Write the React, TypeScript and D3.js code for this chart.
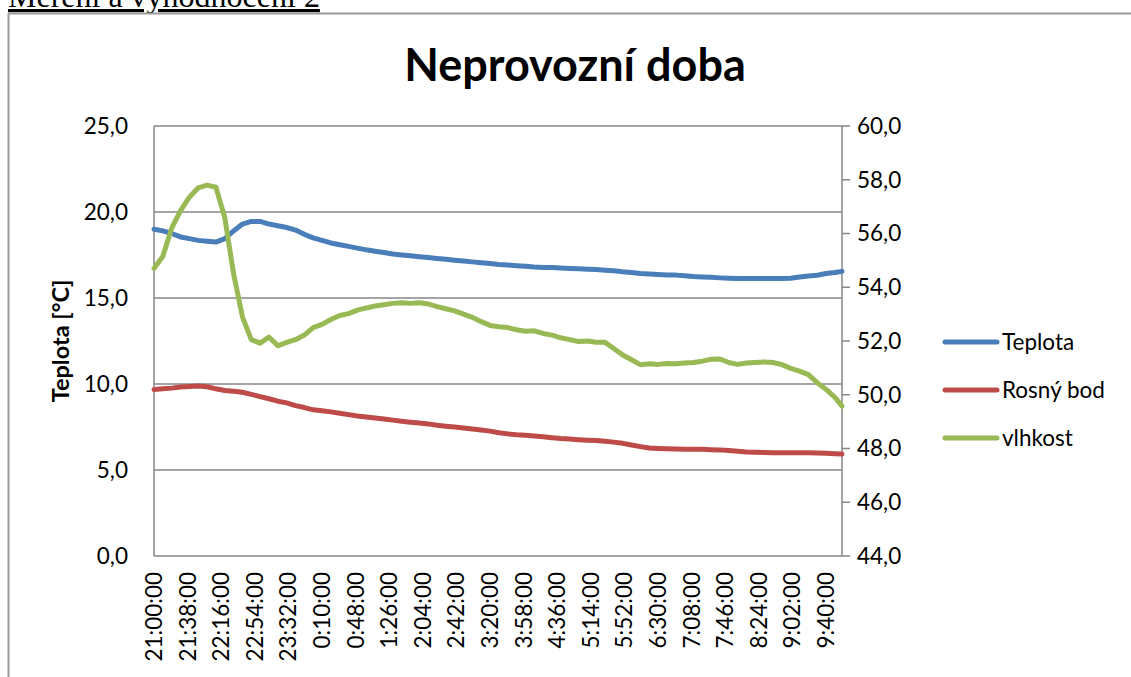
import React from 'react';
import * as d3 from 'd3';

// sampled every 10 minutes from 21:00 (last point 9:58)
const sampleMinutes = [...d3.range(0, 771, 10), 778];

const teplota = [
  19.0, 18.9, 18.75, 18.55, 18.45, 18.35, 18.3, 18.25, 18.45, 18.9,
  19.3, 19.45, 19.45, 19.3, 19.2, 19.1, 18.95, 18.7, 18.5, 18.35,
  18.2, 18.1, 18.0, 17.9, 17.8, 17.72, 17.65, 17.56, 17.5, 17.45,
  17.4, 17.35, 17.3, 17.25, 17.2, 17.15, 17.1, 17.05, 17.0, 16.95,
  16.92, 16.88, 16.85, 16.8, 16.78, 16.77, 16.74, 16.72, 16.7, 16.67,
  16.65, 16.62, 16.58, 16.52, 16.48, 16.43, 16.4, 16.37, 16.34, 16.33,
  16.3, 16.25, 16.22, 16.2, 16.17, 16.15, 16.14, 16.14, 16.14, 16.14,
  16.14, 16.14, 16.15, 16.22, 16.28, 16.32, 16.42, 16.48, 16.55
];

const rosnyBod = [
  9.68, 9.72, 9.76, 9.82, 9.86, 9.88, 9.84, 9.72, 9.62, 9.58,
  9.52, 9.4, 9.27, 9.14, 9.0, 8.9, 8.74, 8.63, 8.5, 8.45,
  8.38, 8.3, 8.22, 8.14, 8.08, 8.02, 7.96, 7.9, 7.84, 7.78,
  7.73, 7.68, 7.6, 7.55, 7.5, 7.44, 7.38, 7.32, 7.26, 7.17,
  7.1, 7.05, 7.02, 6.98, 6.93, 6.88, 6.83, 6.8, 6.76, 6.73,
  6.71, 6.67, 6.62, 6.55, 6.45, 6.36, 6.28, 6.25, 6.23, 6.22,
  6.21, 6.2, 6.2, 6.18, 6.17, 6.14, 6.09, 6.05, 6.03, 6.02,
  6.01, 6.01, 6.01, 6.0, 6.0, 5.99, 5.98, 5.95, 5.93
];

const vlhkost = [
  54.7, 55.15, 56.2, 56.85, 57.35, 57.7, 57.8, 57.72, 56.6, 54.5,
  52.9, 52.05, 51.92, 52.15, 51.82, 51.95, 52.05, 52.22, 52.5, 52.62,
  52.8, 52.95, 53.02, 53.15, 53.23, 53.3, 53.35, 53.4, 53.42, 53.4,
  53.42, 53.38, 53.28, 53.2, 53.12, 53.0, 52.88, 52.72, 52.58, 52.53,
  52.5, 52.42, 52.36, 52.38, 52.28, 52.22, 52.12, 52.05, 51.98, 52.0,
  51.95, 51.95, 51.72, 51.48, 51.3, 51.12, 51.15, 51.13, 51.16, 51.15,
  51.18, 51.2, 51.25, 51.32, 51.33, 51.2, 51.13, 51.18, 51.2, 51.22,
  51.2, 51.12, 50.98, 50.88, 50.75, 50.45, 50.2, 49.9, 49.58
];

const timeLabels = [
  '21:00:00', '21:38:00', '22:16:00', '22:54:00', '23:32:00', '0:10:00', '0:48:00',
  '1:26:00', '2:04:00', '2:42:00', '3:20:00', '3:58:00', '4:36:00', '5:14:00',
  '5:52:00', '6:30:00', '7:08:00', '7:46:00', '8:24:00', '9:02:00', '9:40:00'
];
const labelStep = 38; // minutes between category labels

const leftTicks = [0, 5, 10, 15, 20, 25];
const rightTicks = [44, 46, 48, 50, 52, 54, 56, 58, 60];

const seriesNames = ['Teplota', 'Rosný bod', 'vlhkost'];
const seriesColors = ['#4a7ebb', '#be4b48', '#98b954'];

const fmt = (v: number) => v.toFixed(1).replace('.', ',');

const App = () => {
  const width = 1131;
  const height = 677;
  const plot = { left: 154, right: 842, top: 126, bottom: 556 };
  const font = 'Lato, "Open Sans", sans-serif';
  const fs = 22.5;

  const x = d3.scaleLinear().domain([0, 778]).range([plot.left, plot.right]);
  const yL = d3.scaleLinear().domain([0, 25]).range([plot.bottom, plot.top]);
  const yR = d3.scaleLinear().domain([44, 60]).range([plot.bottom, plot.top]);

  const lineL = d3.line<number>()
    .x((d, i) => x(sampleMinutes[i]))
    .y(d => yL(d));
  const lineR = d3.line<number>()
    .x((d, i) => x(sampleMinutes[i]))
    .y(d => yR(d));

  const axisColor = '#868686';

  return (
    <svg width={width} height={height}
         style={{ position: 'absolute', left: 0, top: 0, background: '#fff' }}>
      {/* page header, cut off at top */}
      <text x={8} y={7} fontFamily='"Liberation Serif", "Times New Roman", serif'
            fontSize={32} textDecoration="underline" fill="#000">Měření a vyhodnocení 2</text>
      {/* document frame */}
      <line x1={8} x2={width} y1={13.5} y2={13.5} stroke="#9a9a9a" strokeWidth={2} />
      <line x1={8.5} x2={8.5} y1={13} y2={height} stroke="#9a9a9a" strokeWidth={2} />

      {/* title */}
      <text x={575} y={81} textAnchor="middle" fontFamily={font} fontWeight="bold"
            fontSize={45} fill="#000">Neprovozní doba</text>

      {/* gridlines */}
      {leftTicks.filter(t => t > 0).map(t => (
        <line key={'g' + t} x1={plot.left} x2={plot.right} y1={yL(t)} y2={yL(t)}
              stroke={axisColor} strokeWidth={1.5} />
      ))}

      {/* axes */}
      <line x1={plot.left} x2={plot.left} y1={plot.top} y2={plot.bottom} stroke={axisColor} strokeWidth={1.5} />
      <line x1={plot.right} x2={plot.right} y1={plot.top} y2={plot.bottom} stroke={axisColor} strokeWidth={1.5} />
      <line x1={plot.left} x2={plot.right} y1={plot.bottom} y2={plot.bottom} stroke={axisColor} strokeWidth={1.5} />

      {/* left tick labels */}
      {leftTicks.map(t => (
        <text key={'l' + t} x={128} y={yL(t)} dy="0.35em" textAnchor="end"
              fontFamily={font} fontSize={fs} fill="#000">{fmt(t)}</text>
      ))}
      <text transform="translate(69,341) rotate(-90)" textAnchor="middle" fontFamily={font}
            fontWeight="bold" fontSize={23.5} fill="#000">Teplota [°C]</text>

      {/* right ticks + labels */}
      {rightTicks.map(t => (
        <g key={'r' + t}>
          <line x1={plot.right} x2={plot.right + 8} y1={yR(t)} y2={yR(t)} stroke={axisColor} strokeWidth={1.5} />
          <text x={857} y={yR(t)} dy="0.35em" fontFamily={font} fontSize={fs} fill="#000">{fmt(t)}</text>
        </g>
      ))}

      {/* category labels */}
      {timeLabels.map((lab, i) => (
        <text key={lab} transform={`translate(${x(i * labelStep) + 8},572) rotate(-90)`}
              textAnchor="end" fontFamily={font} fontSize={fs} fill="#000">{lab}</text>
      ))}

      {/* series */}
      <path d={lineL(teplota) || ''} fill="none" stroke={seriesColors[0]} strokeWidth={5}
            strokeLinejoin="round" strokeLinecap="round" />
      <path d={lineL(rosnyBod) || ''} fill="none" stroke={seriesColors[1]} strokeWidth={5}
            strokeLinejoin="round" strokeLinecap="round" />
      <path d={lineR(vlhkost) || ''} fill="none" stroke={seriesColors[2]} strokeWidth={5}
            strokeLinejoin="round" strokeLinecap="round" />

      {/* legend */}
      {seriesNames.map((name, i) => (
        <g key={name} transform={`translate(945,${342 + i * 48})`}>
          <line x1={0} x2={52} y1={0} y2={0} stroke={seriesColors[i]} strokeWidth={5} strokeLinecap="round" />
          <text x={57} y={0} dy="0.35em" fontFamily={font} fontSize={fs} fill="#000">{name}</text>
        </g>
      ))}
    </svg>
  );
};

export default App;
